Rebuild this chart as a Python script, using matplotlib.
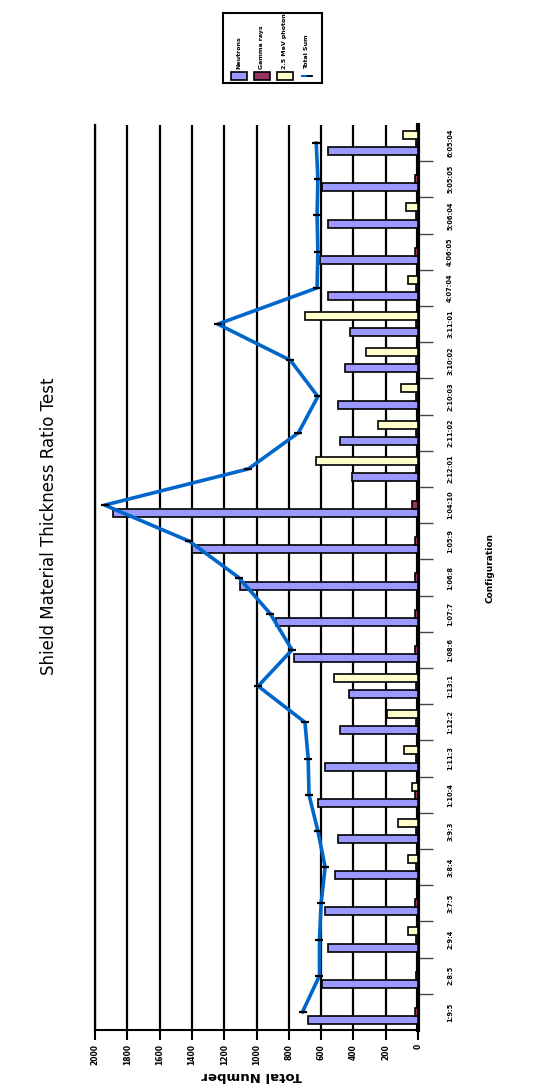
"""
Shield material thickness ratio test, drawn on its side like the scanned page.
"""

import numpy as np
import matplotlib
matplotlib.use("Agg")
import matplotlib.pyplot as plt
from matplotlib.patches import Rectangle

W, H = 545, 1090

"""Data, listed from the bottom category up."""
CONFIGS = ["1:9:5", "2:8:5", "2:9:4", "3:7:5", "3:8:4", "3:9:3", "1:10:4", "1:11:3",
           "1:12:2", "1:13:1", "1:08:6", "1:07:7", "1:06:8", "1:05:9", "1:04:10",
           "2:12:01", "2:11:02", "2:10:03", "3:10:02", "3:11:01", "4:07:04",
           "4:06:05", "5:06:04", "5:05:05", "6:05:04"]
NEUTRONS = [680, 595, 560, 575, 515, 495, 620, 575, 480, 430, 770, 880, 1100,
            1400, 1890, 410, 485, 495, 450, 420, 560, 605, 560, 596, 559]
GAMMA = [16, 15, 15, 16, 15, 15, 16, 15, 15, 15, 16, 16, 18, 18, 40, 15, 15,
         15, 15, 15, 15, 16, 15, 16, 15]
PHOTON = [0, 0, 62, 0, 62, 124, 37, 87, 192, 520, 0, 0, 0, 0, 0, 630, 250, 105,
          320, 700, 60, 0, 74, 0, 93]
TOTAL = [715, 610, 610, 600, 575, 620, 675, 680, 700, 990, 780, 915, 1110, 1415,
         1940, 1050, 740, 620, 790, 1240, 625, 620, 625, 620, 630]
SERIES = ["Neutrons", "Gamma rays", "2.5 MeV photon", "Total Sum"]
VALUE_TICKS = list(range(0, 2001, 200))

COLORS = ["#9999FF", "#993366", "#FFFFCC"]
LINE_COLOR = "#0066CC"


def px(x, y):
    """Pixel position (from top left) to figure fraction."""
    return x / W, 1 - y / H


def main():
    plt.rcParams['font.family'] = ["DejaVu Sans"]

    fig = plt.figure(figsize=(W / 100, H / 100), dpi=100)
    ax = fig.add_axes([95 / W, 60 / H, 323 / W, 905 / H])

    pos = np.arange(len(CONFIGS))
    bw = 0.222

    """Bars: neutrons low in each slot, photons on top."""
    for offset, values, color in zip([-bw, 0, bw], [NEUTRONS, GAMMA, PHOTON], COLORS):
        ax.barh(pos + offset, values, height=bw, color=color, edgecolor="black",
                linewidth=1.2, zorder=3)

    ax.plot(TOTAL, pos, color=LINE_COLOR, lw=2.6, marker="_", ms=6,
            mec="black", mew=1.6, zorder=4)

    ax.set_xlim(2000, 0)
    ax.set_ylim(-0.5, len(CONFIGS) - 0.5)
    ax.set_axisbelow(True)

    """Value axis along the bottom."""
    ax.set_xticks(VALUE_TICKS)
    ax.set_xticklabels([str(v) for v in VALUE_TICKS], rotation=90,
                       fontsize=5.5, fontweight="bold")
    ax.tick_params(axis="x", direction="out", length=7, width=1.5, pad=3)
    ax.grid(axis="x", color="black", lw=1.6)

    """Category axis on the right."""
    ax.yaxis.tick_right()
    ax.set_yticks(pos)
    ax.set_yticklabels(CONFIGS, rotation=90, fontsize=4.8, fontweight="bold",
                       va="center", ha="left")
    ax.set_yticks(pos[:-1] + 0.5, minor=True)
    ax.tick_params(axis="y", which="major", length=0, pad=21)
    ax.tick_params(axis="y", which="minor", direction="out", length=11,
                   width=1, color="#444444", right=True, left=False)

    ax.spines["top"].set_visible(False)
    ax.spines["right"].set_linewidth(3)
    ax.spines["bottom"].set_linewidth(1.5)
    ax.spines["left"].set_linewidth(1.6)

    """Titles, turned like the rest of the page."""
    fig.text(*px(49, 526), "Shield Material Thickness Ratio Test", rotation=90,
             ha="center", va="center", fontsize=12)
    fig.text(*px(252, 1076), "Total Number", rotation=180, ha="center",
             va="center", fontsize=9.5, fontweight="bold")
    fig.text(*px(490, 568), "Configuration", rotation=90, ha="center",
             va="center", fontsize=6.5, fontweight="bold")

    """Legend box, entries side by side."""
    lg = fig.add_axes([223 / W, 1 - 83 / H, 99 / W, 70 / H])
    lg.set_xlim(0, 99)
    lg.set_ylim(70, 0)
    lg.set_xticks([])
    lg.set_yticks([])
    for s in lg.spines.values():
        s.set_linewidth(1.5)
    centers = [16, 38.5, 61.5, 84]
    for i, (cx, name) in enumerate(zip(centers, SERIES)):
        if i < 3:
            lg.add_patch(Rectangle((cx - 8, 59), 16, 8, facecolor=COLORS[i],
                                   edgecolor="black", lw=1.2))
        else:
            lg.plot([cx - 5, cx + 4], [63, 63], color=LINE_COLOR, lw=1.5)
            lg.plot([cx + 3], [63], marker="_", ms=4, mec="black", mew=1.2)
        lg.text(cx, 56, name, rotation=90, ha="center", va="bottom",
                fontsize=4.5, fontweight="bold")

    fig.savefig("out.png", dpi=100, facecolor="white")


if __name__ == "__main__":
    main()
